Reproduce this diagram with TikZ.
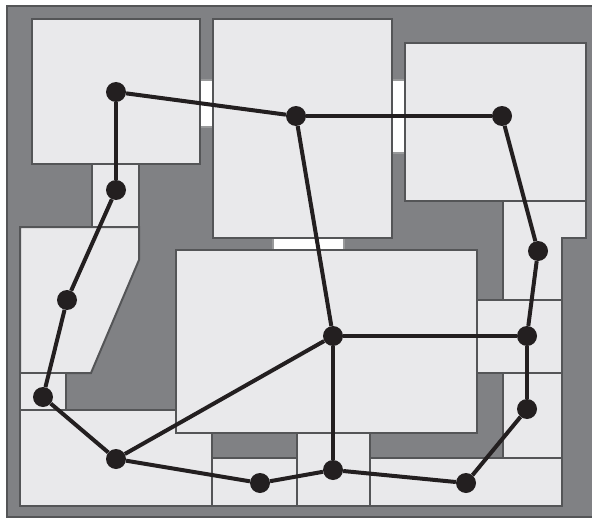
\documentclass[tikz,border=0pt]{standalone}
\usepackage{xcolor}
\definecolor{floorgray}{HTML}{808184}
\definecolor{roomfill}{HTML}{E9E9EB}
\definecolor{wallline}{HTML}{545557}
\definecolor{pathink}{HTML}{231F20}

\begin{document}
\begin{tikzpicture}[
  x=1pt, y=-1pt,
  room/.style={draw=wallline, fill=roomfill, line width=2pt, line join=miter},
  door/.style={draw=wallline!60, fill=white, line width=1.5pt},
  stopnode/.style={circle, fill=pathink, inner sep=0pt, minimum size=20pt},
  route/.style={draw=pathink, line width=4pt}
]
  \useasboundingbox (0,0) rectangle (592,519);
  % building floor
  \fill[white] (0,0) rectangle (592,519);
  \draw[draw=wallline, fill=floorgray, line width=2.5pt] (7,6) -- (594,6) -- (594,517) -- (7,517) -- cycle;

  % doors
  \draw[door] (199,80) rectangle (213,127);
  \draw[door] (391,80) rectangle (406,153);
  \draw[door] (273,238) rectangle (344,251);

  % rooms
  \draw[room] (32,19) rectangle (200,164);
  \draw[room] (213,19) rectangle (392,238);
  \draw[room] (405,43) rectangle (586,201);
  \draw[room] (92,164) rectangle (139,227);
  \draw[room] (20,227) -- (139,227) -- (139,260) -- (91,373) -- (20,373) -- cycle;
  \draw[room] (20,373) rectangle (66,410);
  \draw[room] (20,410) -- (176,410) -- (176,433) -- (212,433) -- (212,506) -- (20,506) -- cycle;
  \draw[room] (503,201) -- (586,201) -- (586,238) -- (562,238) -- (562,300) -- (503,300) -- cycle;
  \draw[room] (477,300) rectangle (562,373);
  \draw[room] (503,373) rectangle (562,458);
  \draw[room] (212,458) rectangle (297,506);
  \draw[room] (297,433) rectangle (370,506);
  \draw[room] (370,458) rectangle (562,506);
  \draw[room] (176,250) rectangle (477,433);

  % stops
  \node[stopnode] (northwest) at (116,92) {};
  \node[stopnode] (north) at (296,116) {};
  \node[stopnode] (northeast) at (502,116) {};
  \node[stopnode] (eastupper) at (538,251) {};
  \node[stopnode] (east) at (527,336) {};
  \node[stopnode] (eastlower) at (527,409) {};
  \node[stopnode] (southeast) at (466,483) {};
  \node[stopnode] (south) at (333,470) {};
  \node[stopnode] (southmid) at (260,483) {};
  \node[stopnode] (southwest) at (116,459) {};
  \node[stopnode] (westlower) at (43,397) {};
  \node[stopnode] (west) at (67,300) {};
  \node[stopnode] (westupper) at (116,190) {};
  \node[stopnode] (center) at (333,336) {};

  % routes
  \draw[route] (northwest) -- (north);
  \draw[route] (north) -- (northeast);
  \draw[route] (northeast) -- (eastupper);
  \draw[route] (eastupper) -- (east);
  \draw[route] (east) -- (eastlower);
  \draw[route] (eastlower) -- (southeast);
  \draw[route] (southeast) -- (south);
  \draw[route] (south) -- (southmid);
  \draw[route] (southmid) -- (southwest);
  \draw[route] (southwest) -- (westlower);
  \draw[route] (westlower) -- (west);
  \draw[route] (west) -- (westupper);
  \draw[route] (westupper) -- (northwest);
  \draw[route] (north) -- (center);
  \draw[route] (center) -- (east);
  \draw[route] (center) -- (south);
  \draw[route] (center) -- (southwest);
\end{tikzpicture}
\end{document}
